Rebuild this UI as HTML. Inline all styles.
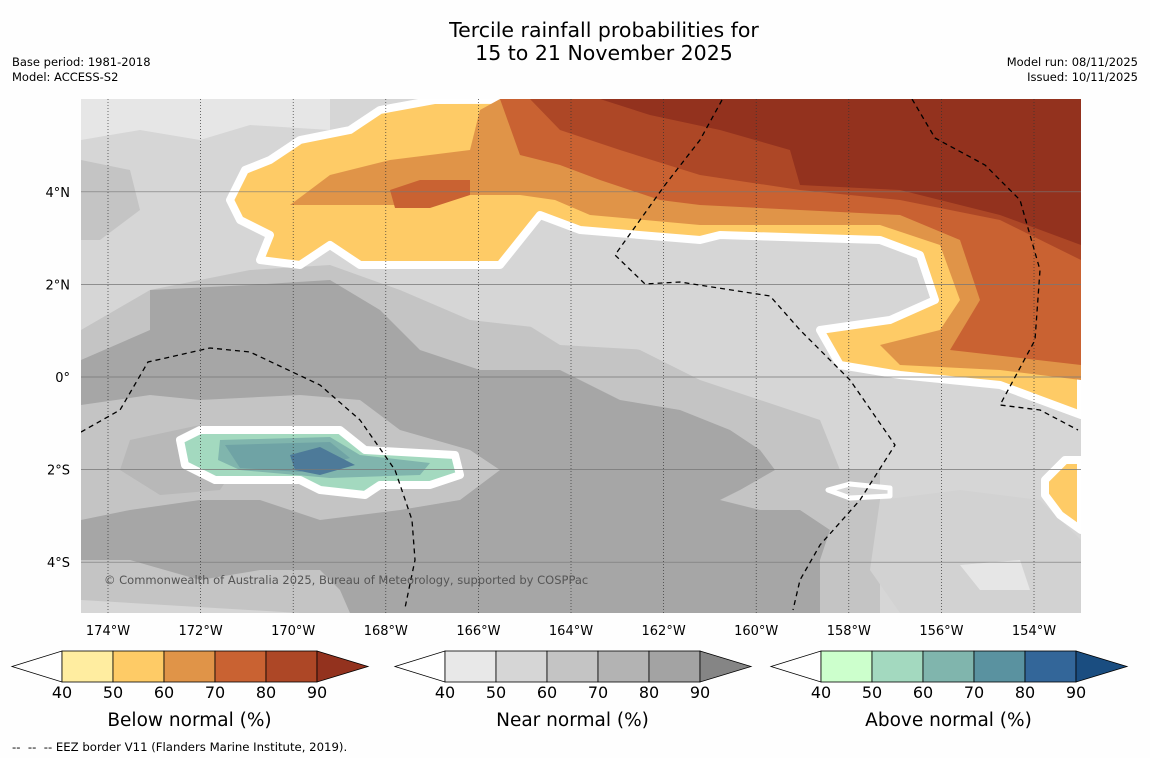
<!DOCTYPE html>
<html><head><meta charset="utf-8">
<style>
body{margin:0;background:#fefefe;font-family:"DejaVu Sans",sans-serif;}
#wrap{position:relative;width:1150px;height:758px;overflow:hidden;background:#fefefe}
.t{position:absolute;color:#000}
</style></head>
<body>
<div id="wrap">
<div class="t" style="left:0;width:1208px;top:19px;text-align:center;font-size:20.5px;line-height:23px">Tercile rainfall probabilities for<br>15 to 21 November 2025</div>
<div class="t" style="left:12px;top:55px;font-size:11.5px;line-height:15px">Base period: 1981-2018<br>Model: ACCESS-S2</div>
<div class="t" style="right:12px;top:55px;font-size:11.5px;line-height:15px;text-align:right">Model run: 08/11/2025<br>Issued: 10/11/2025</div>
<svg id="svg" width="1150" height="758" style="position:absolute;left:0;top:0"></svg>
<div class="t" style="left:12px;top:740px;font-size:11.7px">-- &nbsp;-- &nbsp;-- EEZ border V11 (Flanders Marine Institute, 2019).</div>
</div>
<script>
const lonTicks=[-174,-172,-170,-168,-166,-164,-162,-160,-158,-156,-154];
const latTicks=[4,2,0,-2,-4];
const levels=[40,50,60,70,80,90];
const belowColors=["#ffeda0","#fecb66","#e09448","#c96232","#ad4726","#93321e"];
const nearColors=["#e8e8e8","#d6d6d6","#c4c4c4","#b3b3b3","#a3a3a3","#858585"];
const aboveColors=["#ccffcc","#a3d9bf","#80b5ad","#5a92a0","#336699","#1a4d80"];
const legendTitles=["Below normal (%)","Near normal (%)","Above normal (%)"];
const legendX=[12,395,771];
const NS="http://www.w3.org/2000/svg";
const FF="DejaVu Sans";
const svg=document.getElementById('svg');
const X0=81,X1=1081,Y0=99,Y1=613;
function xOf(lon){return 108+(lon+174)*46.3;}
function yOf(lat){return 377-lat*46.3;}
function el(t,a,p){const e=document.createElementNS(NS,t);for(const k in a)e.setAttribute(k,a[k]);(p||svg).appendChild(e);return e;}
const clip=el('clipPath',{id:'mc'});el('rect',{x:X0,y:Y0,width:X1-X0,height:Y1-Y0},clip);
const g=el('g',{'clip-path':'url(#mc)'});

el('rect',{x:X0,y:Y0,width:1000,height:514,fill:'#d6d6d6'},g);
function poly(pts,fill,name,stroke,sw){const p=el('polygon',{points:pts,fill:fill,stroke:stroke||'none','stroke-width':sw||0,'stroke-linejoin':'round'},g);return p;}
poly("81,99 330,99 330,130 250,125 200,140 140,130 81,140","#e6e6e6","light-gray-top");
poly("81,160 130,170 140,210 100,240 81,240","#c4c4c4","gray-left-patch");
poly("81,330 150,290 250,270 330,265 400,290 470,320 560,330 640,350 700,380 760,400 820,420 840,470 880,470 880,613 300,613 81,600","#c4c4c4","near-60-band");
poly("81,360 150,330 150,290 250,285 330,280 380,310 420,350 480,370 560,370 620,400 680,410 730,430 760,450 775,470 740,490 720,500 760,510 800,510 830,530 820,560 820,613 350,613 340,590 320,570 260,570 200,580 130,560 81,560 81,520 130,510 200,500 260,500 320,520 400,510 460,500 500,470 470,450 400,430 360,400 300,395 200,400 150,395 81,405","#a6a6a6","near-80-band");
poly("130,440 200,425 240,460 220,490 160,495 120,470","#b8b8b8","near-70-patch");
poly("880,500 960,490 1040,500 1081,540 1081,613 900,613 870,570","#d2d2d2","near-50-bottom");
poly("960,565 1020,560 1030,590 980,590","#e6e6e6","near-40-patch");
poly("520,320 600,300 700,310 720,340 650,350 560,345","#d6d6d6","near-50-center");
poly("230,200 245,170 270,160 300,140 350,130 380,110 435,100 1081,99 1081,415 1000,385 900,375 840,365 820,330 890,320 935,300 920,255 880,240 720,235 700,240 580,230 540,215 520,240 500,265 360,265 330,245 300,265 260,260 270,235 240,220","#fecb66","below-50-region","#ffffff",8);
poly("290,205 330,175 390,160 470,150 480,110 500,99 1081,99 1081,380 1000,370 900,365 880,345 940,330 960,300 940,245 880,225 700,225 590,215 555,200 520,195 460,195 400,205","#e09448","below-60-region");
poly("500,99 520,155 560,165 600,180 660,200 700,205 800,210 900,215 960,240 980,300 950,350 1081,365 1081,99","#c96232","below-70-region");
poly("530,99 560,130 620,150 700,175 800,190 900,200 1000,220 1081,260 1081,99","#ad4726","below-80-region");
poly("600,99 650,115 720,130 790,150 800,185 900,190 1000,215 1081,245 1081,99","#93321e","below-90-region");
poly("390,190 420,180 470,180 470,195 430,208 395,208","#c96232","below-70-blob");
poly("1045,480 1065,460 1081,460 1081,530 1060,515 1045,495","#fecb66","below-50-southeast","#ffffff",8);
poly("828,490 850,484 890,488 890,496 850,498","#d6d6d6","small-white-blob","#ffffff",5);
poly("180,440 200,430 340,430 365,450 455,455 460,475 430,485 380,485 365,495 320,490 300,480 215,480 185,465","#a3d9bf","above-50-region","#ffffff",8);
poly("220,440 330,437 360,455 430,463 420,475 330,478 240,470 218,460","#80b5ad","above-60-region");
poly("225,445 330,442 350,458 300,472 240,468","#6fa3a5","above-70-region");
poly("290,455 320,447 355,465 320,475 295,470","#4d7a99","above-80-region");
latTicks.forEach(v=>{const l=el('line',{x1:X0,x2:X1,y1:yOf(v),y2:yOf(v),stroke:'#777','stroke-width':0.7},g);});
lonTicks.forEach(v=>{const l=el('line',{x1:xOf(v),x2:xOf(v),y1:Y0,y2:Y1,stroke:'#333','stroke-width':0.7,'stroke-dasharray':'1,2'},g);});
["81,432 120,410 148,362 210,348 250,352 320,385 360,420 395,470 412,520 415,560 405,608",
 "722,100 700,140 665,185 615,255 645,284 680,282 770,296 800,330 850,380 895,445 860,500 820,545 800,580 793,610",
 "912,99 935,138 985,165 1020,200 1040,270 1035,340 1000,405 1040,410 1078,430"].forEach(p=>{
 const e=el('polyline',{points:p,fill:'none',stroke:'#000','stroke-width':1.3,'stroke-dasharray':'5,4'},g);
 });
const cp=el('text',{x:104,y:584,'font-size':11.5,fill:'#555','font-family':FF},g);cp.textContent='© Commonwealth of Australia 2025, Bureau of Meteorology, supported by COSPPac';

lonTicks.forEach(v=>{const t=el('text',{x:xOf(v),y:635,'font-size':13,'text-anchor':'middle','font-family':FF});t.textContent=Math.abs(v)+'°W';});
latTicks.forEach(v=>{const t=el('text',{x:70,y:yOf(v)+5,'font-size':13,'text-anchor':'end','font-family':FF});t.textContent=v===0?'0°':Math.abs(v)+'°'+(v>0?'N':'S');});
[belowColors,nearColors,aboveColors].forEach((cols,i)=>{
 const x=legendX[i],bx=x+50,w=51,y=651,h=31;
 const lg=el('g',{});
 el('polygon',{points:`${x},${y+h/2} ${bx},${y} ${bx},${y+h}`,fill:'#fff',stroke:'#000','stroke-width':0.8},lg);
 for(let k=0;k<5;k++)el('rect',{x:bx+k*w,y:y,width:w,height:h,fill:cols[k],stroke:'#000','stroke-width':0.8},lg);
 el('polygon',{points:`${bx+5*w},${y} ${bx+5*w+51},${y+h/2} ${bx+5*w},${y+h}`,fill:cols[5],stroke:'#000','stroke-width':0.8},lg);
 levels.forEach((lv,k)=>{const t=el('text',{x:bx+k*w,y:698,'font-size':16,'text-anchor':'middle','font-family':FF},lg);t.textContent=lv;});
 const tt=el('text',{x:bx+2.5*w,y:726,'font-size':18.5,'text-anchor':'middle','font-family':FF},lg);tt.textContent=legendTitles[i];
});
</script>
</body></html>
